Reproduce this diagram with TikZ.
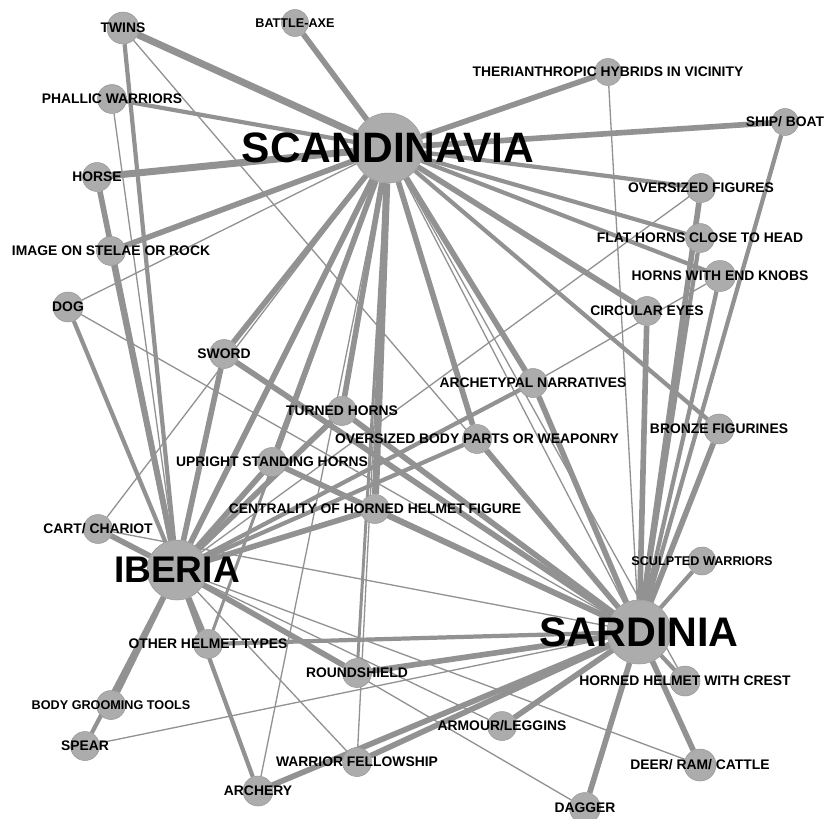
\documentclass[tikz,border=0pt]{standalone}
\usepackage{fontspec}
\setmainfont{Liberation Sans}
\definecolor{edgegray}{RGB}{146,146,146}
\definecolor{nodegray}{RGB}{172,172,172}
\pgfdeclarelayer{edges}
\pgfsetlayers{edges,main}

\begin{document}
\begin{tikzpicture}[x=0.02cm, y=-0.02cm,
    trait/.style={circle, fill=nodegray, draw=nodegray!88!black, line width=0.3pt, inner sep=0pt, minimum size=0.58cm},
    region/.style={trait, minimum size=#1},
    lbl/.style={font=\bfseries\fontsize{7.9}{9}\selectfont, inner sep=0pt},
    slbl/.style={font=\bfseries\fontsize{7.2}{8}\selectfont, inner sep=0pt},
    rlbl/.style={font=\bfseries\fontsize{#1}{#1}\selectfont, inner sep=0pt},
    e1/.style={draw=edgegray, line width=0.75pt},
    e2/.style={draw=edgegray, line width=1.7pt},
    e3/.style={draw=edgegray, line width=2.4pt},
    e4/.style={draw=edgegray, line width=3.2pt},
    e5/.style={draw=edgegray, line width=4pt}]

    \useasboundingbox (0,0) rectangle (827,818);

    %% Regions
    \node[region=1.4cm]  (scan)   at (388,148) {};
    \node[region=1.2cm]  (iberia) at (177,570) {};
    \node[region=1.28cm] (sard)   at (639,632) {};

    %% Traits
    \node[trait, minimum size=0.64cm] (twins) at (123,28) {};
    \node[trait, minimum size=0.54cm] (axe) at (295,23) {};
    \node[trait, minimum size=0.54cm] (ther) at (608,72) {};
    \node[trait] (phallic) at (112,99) {};
    \node[trait, minimum size=0.54cm] (ship) at (785,122) {};
    \node[trait] (horse) at (97,177) {};
    \node[trait] (ofig) at (701,188) {};
    \node[trait] (flat) at (700,238) {};
    \node[trait] (stelae) at (111,251) {};
    \node[trait, minimum size=0.62cm] (knobs) at (720,276) {};
    \node[trait, minimum size=0.6cm] (dog) at (68,307) {};
    \node[trait] (eyes) at (647,311) {};
    \node[trait] (sword) at (224,354) {};
    \node[trait] (narr) at (533,383) {};
    \node[trait] (turned) at (342,411) {};
    \node[trait, minimum size=0.6cm] (bronze) at (719,429) {};
    \node[trait] (bodyparts) at (477,439) {};
    \node[trait] (upright) at (272,462) {};
    \node[trait] (central) at (375,509) {};
    \node[trait] (cart) at (98,529) {};
    \node[trait, minimum size=0.56cm] (sculpt) at (702,561) {};
    \node[trait] (otherhelm) at (208,644) {};
    \node[trait] (shield) at (357,673) {};
    \node[trait, minimum size=0.6cm] (crest) at (685,681) {};
    \node[trait] (groom) at (111,705) {};
    \node[trait] (armour) at (502,726) {};
    \node[trait] (spear) at (85,746) {};
    \node[trait] (fellow) at (357,762) {};
    \node[trait, minimum size=0.64cm] (deer) at (700,765) {};
    \node[trait, minimum size=0.6cm] (archery) at (258,791) {};
    \node[trait, minimum size=0.62cm] (dagger) at (585,808) {};

    %% Connections
    \begin{pgfonlayer}{edges}
        % Scandinavia
        \draw[e5] (scan) -- (twins);
        \draw[e4] (scan) -- (axe);
        \draw[e3] (scan) -- (phallic);
        \draw[e5] (scan) -- (horse);
        \draw[e4] (scan) -- (stelae);
        \draw[e1] (scan) -- (dog);
        \draw[e4] (scan) -- (ther);
        \draw[e4] (scan) -- (ship);
        \draw[e3] (scan) -- (ofig);
        \draw[e3] (scan) -- (flat);
        \draw[e3] (scan) -- (knobs);
        \draw[e4] (scan) -- (eyes);
        \draw[e3] (scan) -- (bronze);
        \draw[e4] (scan) -- (narr);
        \draw[e4] (scan) -- (bodyparts);
        \draw[e1] (scan) -- (sard);
        \draw[e1] (scan) -- (crest);
        \draw[e5] (scan) -- (central);
        \draw[e4] (scan) -- (turned);
        \draw[e4] (scan) -- (upright);
        \draw[e4] (scan) -- (iberia);
        \draw[e4] (scan) -- (sword);
        \draw[e1] (scan) -- (cart);
        \draw[e2] (scan) -- (otherhelm);
        \draw[e2] (scan) -- (shield);
        \draw[e1] (scan) -- (fellow);
        \draw[e1] (scan) -- (archery);

        % Iberia
        \draw[e3] (iberia) -- (twins);
        \draw[e1] (iberia) -- (phallic);
        \draw[e4] (iberia) -- (horse);
        \draw[e4] (iberia) -- (stelae);
        \draw[e3] (iberia) -- (dog);
        \draw[e4] (iberia) -- (sword);
        \draw[e4] (iberia) -- (cart);
        \draw[e4] (iberia) -- (upright);
        \draw[e4] (iberia) -- (turned);
        \draw[e4] (iberia) -- (central);
        \draw[e3] (iberia) -- (bodyparts);
        \draw[e3] (iberia) -- (narr);
        \draw[e1] (iberia) -- (ofig);
        \draw[e4] (iberia) -- (otherhelm);
        \draw[e3] (iberia) -- (archery);
        \draw[e4] (iberia) -- (shield);
        \draw[e4] (iberia) -- (groom);
        \draw[e3] (iberia) -- (spear);
        \draw[e1] (iberia) -- (fellow);
        \draw[e1] (iberia) -- (armour);
        \draw[e1] (iberia) -- (dagger);
        \draw[e1] (iberia) -- (deer);

        % Sardinia
        \draw[e1] (sard) -- (twins);
        \draw[e1] (sard) -- (dog);
        \draw[e1] (sard) -- (cart);
        \draw[e1] (sard) -- (spear);
        \draw[e1] (sard) -- (ther);
        \draw[e4] (sard) -- (sword);
        \draw[e4] (sard) -- (turned);
        \draw[e4] (sard) -- (upright);
        \draw[e4] (sard) -- (central);
        \draw[e4] (sard) -- (bodyparts);
        \draw[e4] (sard) -- (narr);
        \draw[e4] (sard) -- (eyes);
        \draw[e4] (sard) -- (ofig);
        \draw[e3] (sard) -- (flat);
        \draw[e3] (sard) -- (knobs);
        \draw[e3] (sard) -- (ship);
        \draw[e4] (sard) -- (bronze);
        \draw[e3] (sard) -- (sculpt);
        \draw[e3] (sard) -- (otherhelm);
        \draw[e4] (sard) -- (shield);
        \draw[e4] (sard) -- (fellow);
        \draw[e4] (sard) -- (archery);
        \draw[e4] (sard) -- (armour);
        \draw[e4] (sard) -- (dagger);
        \draw[e4] (sard) -- (deer);
        \draw[e3] (sard) -- (crest);

        % Between traits
        \draw[e1] (narr) -- (knobs);
    \end{pgfonlayer}

    %% Labels
    \node[rlbl=24.2] at (scan) {SCANDINAVIA};
    \node[rlbl=21.1] at (iberia) {IBERIA};
    \node[rlbl=23.5] at (sard) {SARDINIA};

    \node[lbl] at (twins) {TWINS};
    \node[slbl] at (axe) {BATTLE-AXE};
    \node[lbl] at (ther) {THERIANTHROPIC HYBRIDS IN VICINITY};
    \node[lbl] at (phallic) {PHALLIC WARRIORS};
    \node[lbl] at (ship) {SHIP/ BOAT};
    \node[lbl] at (horse) {HORSE};
    \node[lbl] at (ofig) {OVERSIZED FIGURES};
    \node[lbl] at (flat) {FLAT HORNS CLOSE TO HEAD};
    \node[lbl] at (stelae) {IMAGE ON STELAE OR ROCK};
    \node[lbl] at (knobs) {HORNS WITH END KNOBS};
    \node[lbl] at (dog) {DOG};
    \node[lbl] at (eyes) {CIRCULAR EYES};
    \node[lbl] at (sword) {SWORD};
    \node[lbl] at (narr) {ARCHETYPAL NARRATIVES};
    \node[lbl] at (turned) {TURNED HORNS};
    \node[lbl] at (bronze) {BRONZE FIGURINES};
    \node[lbl] at (bodyparts) {OVERSIZED BODY PARTS OR WEAPONRY};
    \node[lbl] at (upright) {UPRIGHT STANDING HORNS};
    \node[lbl] at (central) {CENTRALITY OF HORNED HELMET FIGURE};
    \node[lbl] at (cart) {CART/ CHARIOT};
    \node[slbl] at (sculpt) {SCULPTED WARRIORS};
    \node[lbl] at (otherhelm) {OTHER HELMET TYPES};
    \node[lbl] at (shield) {ROUNDSHIELD};
    \node[lbl] at (crest) {HORNED HELMET WITH CREST};
    \node[slbl] at (groom) {BODY GROOMING TOOLS};
    \node[lbl] at (armour) {ARMOUR/LEGGINS};
    \node[lbl] at (spear) {SPEAR};
    \node[lbl] at (fellow) {WARRIOR FELLOWSHIP};
    \node[lbl] at (deer) {DEER/ RAM/ CATTLE};
    \node[lbl] at (archery) {ARCHERY};
    \node[lbl] at (dagger) {DAGGER};

\end{tikzpicture}
\end{document}
